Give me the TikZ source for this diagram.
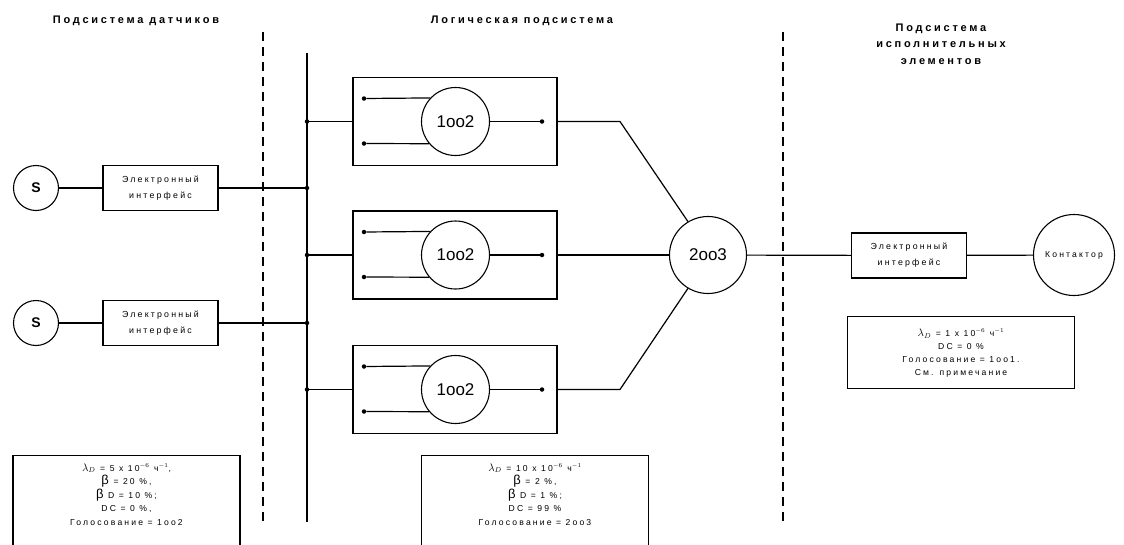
\documentclass[tikz,border=0pt]{standalone}
\usepackage{fontspec}
\setmainfont{Liberation Sans}[LetterSpace=25]
\newfontfamily\plainfont{Liberation Sans}
\usetikzlibrary{positioning}

\tikzset{
 wire/.style={line width=1.2pt},
 ifbox/.style={draw, line width=1.2pt, minimum width=115pt, minimum height=45pt, align=center, font=\fontsize{8.8}{16}\selectfont},
 logbox/.style={draw, line width=1.2pt, minimum width=204pt, minimum height=88pt},
 vote/.style={draw, circle, line width=1.1pt, minimum size=68pt, inner sep=0pt, font=\plainfont\fontsize{17}{19}\selectfont},
 sens/.style={draw, circle, line width=1.1pt, minimum size=45pt, inner sep=0pt, font=\plainfont\bfseries\fontsize{14}{16}\selectfont},
 dot/.style={circle, fill, inner sep=0pt, minimum size=4.5pt},
 parbox/.style={draw, line width=1.2pt, minimum width=227pt},
 partext/.style={align=center, font=\fontsize{8.6}{13.5}\selectfont},
 title/.style={align=center, font=\bfseries\fontsize{11}{16.5}\selectfont},
 divider/.style={line width=1.2pt, dash pattern=on 9pt off 6pt},
}
\newcommand{\bigb}{{\fontsize{13}{13}\selectfont β}}
\newcommand{\lamd}{{\fontsize{10.5}{10.5}\selectfont$\lambda_D$}}

\begin{document}
\begin{tikzpicture}[x=1pt, y=-1pt]
\useasboundingbox (0,0) rectangle (1124,544);

 %titles
 \node[title] (tsens) at (136,21) {Подсистема датчиков};
 \node[title] (tlogic) at (522,21) {Логическая подсистема};
 \node[title] (tact) at (941,44) {Подсистема\\исполнительных\\элементов};

 %dividers and bus
 \coordinate (d1top) at (263,32);
 \coordinate (d1bot) at (263,522);
 \coordinate (d2top) at (783,32);
 \coordinate (d2bot) at (783,522);
 \draw[divider] (d1top) -- (d1bot);
 \draw[divider] (d2top) -- (d2bot);
 \coordinate (bustop) at (307,53);
 \coordinate (busbot) at (307,522);
 \draw[wire] (bustop) -- (busbot);

 %sensors
 \foreach \i/\y in {1/188, 2/323}{
  \node[sens] (s\i) at (36,\y) {S};
  \node[ifbox] (ifs\i) at (160.5,\y) {Электронный\\интерфейс};
  \node[dot] (js\i) at (307,\y) {};
  \draw[wire] (s\i) -- (ifs\i) -- (js\i);
 }

 %logic channels
 \foreach \i/\y in {1/121.5, 2/255, 3/389.5}{
  \node[logbox] (lb\i) at (455,\y) {};
  \node[vote] (v\i) at (455.5,\y) {1oo2};
  \node[dot] (ina\i) at (364,\y-23) {};
  \node[dot] (inb\i) at (364,\y+22) {};
  \node[dot] (out\i) at (542,\y) {};
  \node[dot] (jl\i) at (307,\y) {};
  \draw[wire] (ina\i) -- (v\i.137);
  \draw[wire] (inb\i) -- (v\i.220);
  \draw[wire] (v\i) -- (out\i);
  \draw[wire] (jl\i) -- (lb\i.west);
 }

 %voter
 \node[vote, minimum size=77pt] (v23) at (708,255) {2oo3};
 \coordinate (k1) at (620,121.5);
 \coordinate (k3) at (620,389.5);
 \draw[wire] (lb1.east) -- (k1) -- (v23.121);
 \draw[wire] (lb2.east) -- (v23.west);
 \draw[wire] (lb3.east) -- (k3) -- (v23.239);

 %actuator
 \node[ifbox] (ifa) at (909,255.5) {Электронный\\интерфейс};
 \node[draw, circle, line width=1.1pt, minimum size=81pt, inner sep=0pt, font=\fontsize{8.6}{10}\selectfont] (kont) at (1074,255) {Контактор};
 \draw[wire] (v23) -- (ifa) -- (kont);

 %parameters
 \node[parbox, minimum height=100pt, anchor=north] (pa) at (126.5,455) {};
 \node[partext, below=5pt of pa.north] (pat) {%
  \lamd{} = 5 x 10$^{-6}$ ч$^{-1}$,\\
  \bigb{} = 20 \%,\\
  \bigb{} D = 10 \%;\\
  DC = 0 \%,\\
  Голосование = 1oo2};
 \node[parbox, minimum height=100pt, anchor=north] (pb) at (535,455) {};
 \node[partext, below=5pt of pb.north] (pbt) {%
  \lamd{} = 10 x 10$^{-6}$ ч$^{-1}$\\
  \bigb{} = 2 \%,\\
  \bigb{} D = 1 \%;\\
  DC = 99 \%\\
  Голосование = 2oo3};
 \node[parbox, minimum height=72pt, anchor=north] (pc) at (961,315.5) {};
 \node[partext, font=\fontsize{8.6}{13}\selectfont, below=10pt of pc.north] (pct) {%
  \lamd{} = 1 x 10$^{-6}$ ч$^{-1}$\\
  DC = 0 \%\\
  Голосование = 1oo1.\\
  См. примечание};
\end{tikzpicture}
\end{document}
